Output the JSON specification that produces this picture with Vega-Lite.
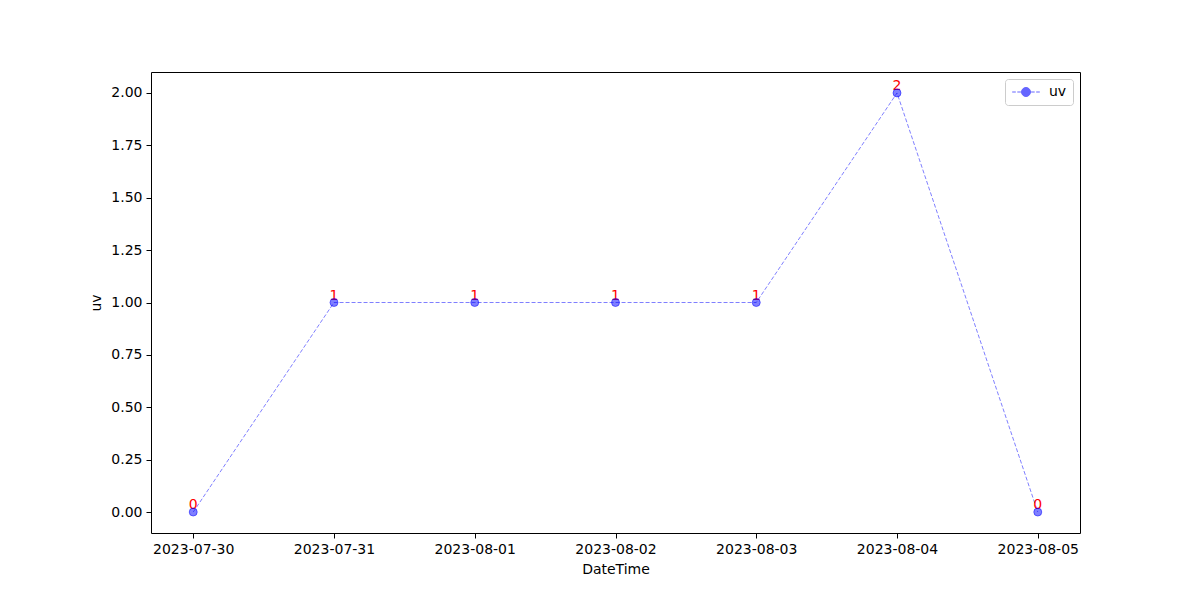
{
  "$schema": "https://vega.github.io/schema/vega-lite/v6.json",
  "width": 929,
  "height": 461,
  "autosize": {"type": "none"},
  "padding": {"left": 151, "top": 72, "right": 120, "bottom": 67},
  "background": "white",
  "config": {
    "view": {"stroke": "black", "strokeWidth": 1},
    "font": "DejaVu Sans",
    "axis": {
      "labelFont": "DejaVu Sans", "labelFontSize": 14, "labelColor": "black",
      "titleFont": "DejaVu Sans", "titleFontSize": 14, "titleFontWeight": "normal", "titleColor": "black",
      "tickColor": "black", "tickSize": 5, "domain": false, "grid": false, "labelPadding": 4
    }
  },
  "data": {"values": [
    {"DateTime": "2023-07-30", "uv": 0, "series": "uv"},
    {"DateTime": "2023-07-31", "uv": 1, "series": "uv"},
    {"DateTime": "2023-08-01", "uv": 1, "series": "uv"},
    {"DateTime": "2023-08-02", "uv": 1, "series": "uv"},
    {"DateTime": "2023-08-03", "uv": 1, "series": "uv"},
    {"DateTime": "2023-08-04", "uv": 2, "series": "uv"},
    {"DateTime": "2023-08-05", "uv": 0, "series": "uv"}
  ]},
  "encoding": {
    "x": {
      "field": "DateTime", "type": "temporal", "title": "DateTime",
      "scale": {"type": "utc", "domain": ["2023-07-29T16:48:00Z", "2023-08-05T07:12:00Z"], "nice": false},
      "axis": {"format": "%Y-%m-%d", "tickCount": {"interval": "day", "step": 1}, "labelAngle": 0, "titlePadding": 6, "labelFlush": false, "labelOverlap": false}
    },
    "y": {
      "field": "uv", "type": "quantitative", "title": "uv",
      "scale": {"domain": [-0.1, 2.1], "nice": false, "zero": false},
      "axis": {"values": [0, 0.25, 0.5, 0.75, 1, 1.25, 1.5, 1.75, 2], "format": ".2f", "titlePadding": 7}
    }
  },
  "layer": [
    {
      "mark": {"type": "line", "color": "blue", "opacity": 0.5, "strokeWidth": 1, "strokeDash": [4, 2]}
    },
    {
      "mark": {"type": "text", "color": "red", "fontSize": 14, "baseline": "bottom", "align": "center", "font": "DejaVu Sans"},
      "encoding": {"text": {"field": "uv", "type": "quantitative"}}
    },
    {
      "mark": {"type": "point", "shape": "circle", "filled": true, "size": 64, "fillOpacity": 0.5, "strokeOpacity": 0.5, "stroke": "blue", "strokeWidth": 1},
      "encoding": {
        "color": {"field": "series", "type": "nominal", "scale": {"range": ["blue"]},
          "legend": {"title": null, "orient": "top-right", "offset": 7, "strokeColor": "#cccccc", "cornerRadius": 3, "padding": 6,
            "labelFontSize": 14, "labelFont": "DejaVu Sans", "labelColor": "black", "labelOffset": 16, "symbolOffset": 8,
            "symbolType": "M-2.3,0H-1.7M-1.45,0H-0.85M0.85,0H1.45M1.7,0H2.3M0.75,0A0.75,0.75 0 1,1 -0.75,0A0.75,0.75 0 1,1 0.75,0Z",
            "symbolSize": 144, "symbolOpacity": 0.6, "symbolStrokeWidth": 1, "symbolStrokeColor": "blue", "symbolFillColor": "blue", "fillColor": "white"}}
      }
    }
  ]
}
